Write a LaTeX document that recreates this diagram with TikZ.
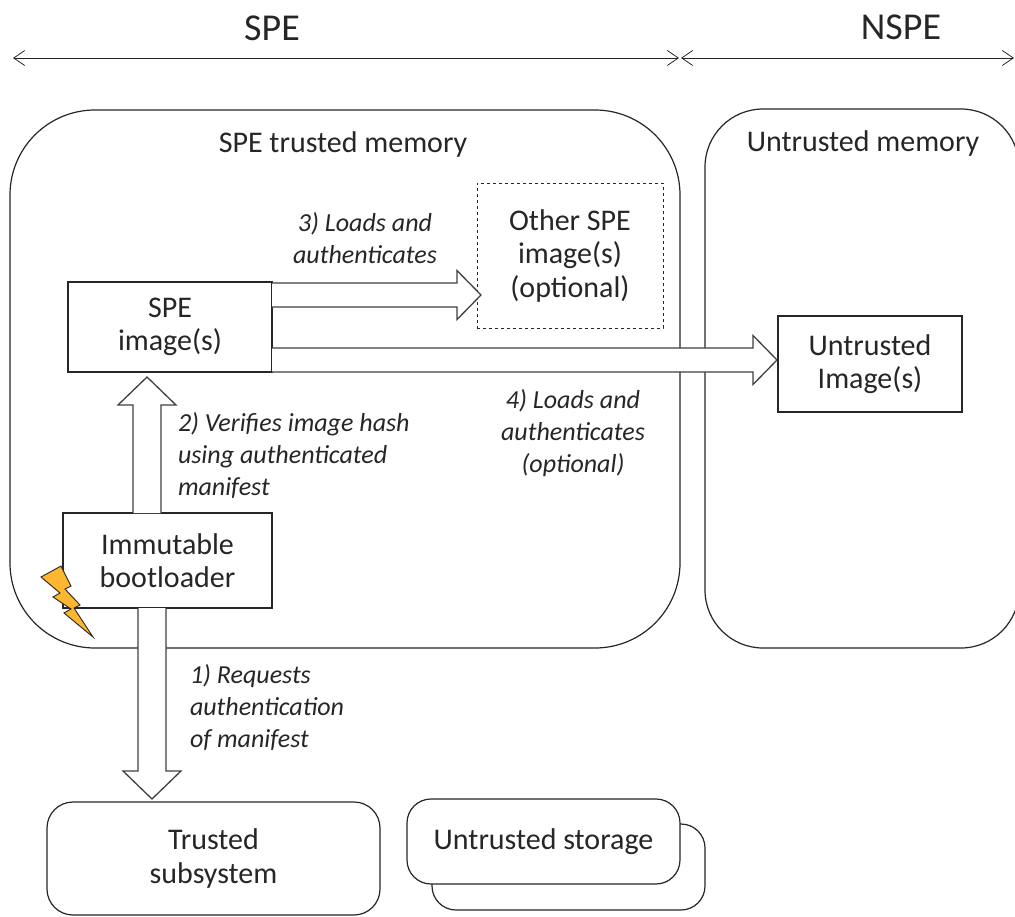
\documentclass[tikz,border=0pt]{standalone}
\usepackage{fontspec}
\setmainfont{Carlito}
\usetikzlibrary{arrows.meta,calc}
\definecolor{inkc}{HTML}{262626}
\definecolor{linec}{HTML}{404040}
\definecolor{boltc}{HTML}{FDB62F}
\tikzset{
  x=1pt,y=-1pt,
  every node/.style={text=inkc,outer sep=0pt,inner sep=0pt},
  boxn/.style={draw=inkc,line width=1.2pt,fill=white,align=center,font=\fontsize{30}{33.5}\selectfont},
  titlen/.style={font=\fontsize{30}{33}\selectfont,align=center},
  capn/.style={font=\fontsize{26}{32}\selectfont\itshape},
  spanarrow/.style={draw=inkc,line width=0.8pt,{Straight Barb[length=11pt,width=15pt]}-{Straight Barb[length=11pt,width=15pt]}},
  blockr/.style={draw=linec,line width=1.3pt,fill=white,line join=miter,to path={
    ($(\tikztostart)+(0pt,12pt)$) -- ($(\tikztotarget)+(-24pt,12pt)$) -- ($(\tikztotarget)+(-24pt,24.5pt)$) -- (\tikztotarget)
    -- ($(\tikztotarget)+(-24pt,-24.5pt)$) -- ($(\tikztotarget)+(-24pt,-12pt)$) -- ($(\tikztostart)+(0pt,-12pt)$)}},
  blockv/.style={draw=linec,line width=1.3pt,fill=white,line join=miter,to path={
    ($(\tikztostart)+(-14pt,0pt)$) -- ($(\tikztotarget)+(-14pt,#1*28pt)$) -- ($(\tikztotarget)+(-29pt,#1*28pt)$) -- (\tikztotarget)
    -- ($(\tikztotarget)+(29pt,#1*28pt)$) -- ($(\tikztotarget)+(14pt,#1*28pt)$) -- ($(\tikztostart)+(14pt,0pt)$)}},
}
\begin{document}
\begin{tikzpicture}
\useasboundingbox (0,0) rectangle (1015,916);
% memory regions
\node[boxn,rounded corners=85pt,minimum width=670pt,minimum height=538pt] (trustedmem) at (345,379) {};
\node[boxn,rounded corners=58pt,minimum width=314pt,minimum height=539pt] (untrustedmem) at (862,378.5) {};
% lower stores
\node[boxn,rounded corners=24pt,minimum width=273pt,minimum height=86pt] (storeback) at (568.5,867) {};
\node[boxn,rounded corners=24pt,minimum width=273pt,minimum height=85pt] (store) at (543.5,841.5) {Untrusted storage};
\node[boxn,rounded corners=26pt,minimum width=333pt,minimum height=113pt] (trustedsub) at (213.5,858.5) {Trusted\\subsystem};
% boxes
\node[boxn,minimum width=204pt,minimum height=90pt] (speimg) at (170,327) {SPE\\image(s)};
\node[boxn,dashed,line width=0.9pt,minimum width=186pt,minimum height=145pt] (other) at (570,255.5) {Other SPE\\image(s)\\(optional)};
\node[boxn,minimum width=184pt,minimum height=96pt] (untrustedimg) at (870,364) {Untrusted\\Image(s)};
% span arrows
\coordinate (speL) at (13,58);
\coordinate (speR) at (679,58);
\coordinate (nsL) at (681,58);
\coordinate (nsR) at (1014,58);
\draw[spanarrow] (speL) -- (speR);
\draw[spanarrow] (nsL) -- (nsR);
% block arrows
\draw[blockr] ([yshift=32pt]speimg.east) to ([xshift=4pt,yshift=-39.5pt]other.west);
\draw[blockr] ([yshift=-33pt]speimg.east) to ([xshift=-1pt,yshift=4pt]untrustedimg.west);
\node[boxn,minimum width=209pt,minimum height=95pt] (boot) at (167.5,560.5) {Immutable\\bootloader};
\draw[blockv=-1] ([xshift=-20.5pt]boot.north) to ([xshift=-23pt,yshift=-5pt]speimg.south);
\draw[blockv=1] ([xshift=-15.5pt]boot.south) to ([xshift=-61.5pt,yshift=3pt]trustedsub.north);
% bolt
\draw[draw=inkc,line width=0.9pt,fill=boltc,line join=miter]
  (41,577) -- (61,566) -- (71,586) -- (65,589) -- (80,605) -- (74,608) -- (93,637)
  -- (64,613) -- (71,609) -- (53,597) -- (60,593) -- cycle;
% titles
\node[titlen,font=\fontsize{38}{40}\selectfont] (tspe) at (272,28) {SPE};
\node[titlen,font=\fontsize{38}{40}\selectfont] (tnspe) at (901,27) {NSPE};
\node[titlen] (tmem) at (343,144) {SPE trusted memory};
\node[titlen] (umem) at (863,143) {Untrusted memory};
% captions
\node[capn,align=center] (c3) at (365,238) {3) Loads and\\authenticates};
\node[capn,align=left,anchor=west] (c2) at (178,456) {2) Verifies image hash\\using authenticated\\manifest};
\node[capn,align=center] (c4) at (573,433) {4) Loads and\\authenticates\\(optional)};
\node[capn,align=left,anchor=west] (c1) at (190,708) {1) Requests\\authentication\\of manifest};
\end{tikzpicture}
\end{document}
